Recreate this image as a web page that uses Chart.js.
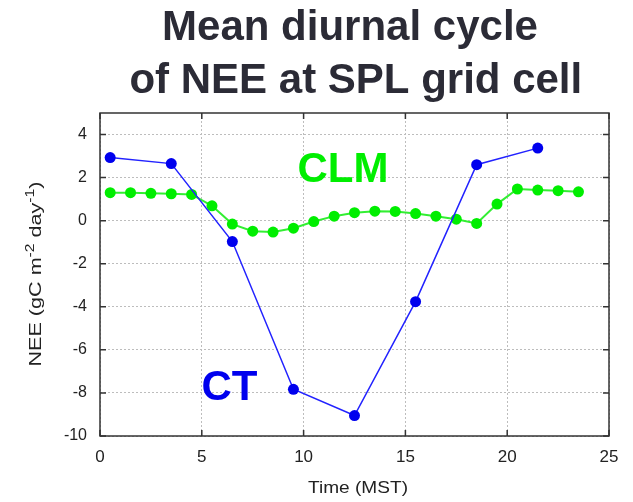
<!DOCTYPE html>
<html>
<head>
<meta charset="utf-8">
<script src="https://cdn.jsdelivr.net/npm/chart.js@4"></script>
<style>
  html, body { margin: 0; padding: 0; background: #fff; }
  #wrap { width: 633px; height: 502px; }
</style>
</head>
<body>
<div id="wrap"><canvas id="neeChart" width="633" height="502"></canvas></div>
<script>
// hours (MST) and NEE values
const ctHours = [0.5, 3.5, 6.5, 9.5, 12.5, 15.5, 18.5, 21.5];
const ctValues = [2.93, 2.65, -0.97, -7.83, -9.05, -3.76, 2.6, 3.37];

const clmHours = [0.5, 1.5, 2.5, 3.5, 4.5, 5.5, 6.5, 7.5, 8.5, 9.5, 10.5, 11.5,
  12.5, 13.5, 14.5, 15.5, 16.5, 17.5, 18.5, 19.5, 20.5, 21.5, 22.5, 23.5];
const clmValues = [1.3, 1.3, 1.27, 1.25, 1.22, 0.69, -0.16, -0.49, -0.53, -0.35, -0.04, 0.21,
  0.37, 0.44, 0.43, 0.33, 0.21, 0.07, -0.13, 0.77, 1.47, 1.42, 1.39, 1.34];

const xTicks = [0, 5, 10, 15, 20, 25];
const yTicks = [-10, -8, -6, -4, -2, 0, 2, 4];

const titleLines = ["Mean diurnal cycle", " of NEE at SPL grid cell"];
const xTitle = "Time (MST)";
const FONT = "'Liberation Sans', Arial, Helvetica, sans-serif";

function toPoints(xs, ys) {
  return xs.map((x, i) => ({ x: x, y: ys[i] }));
}

// text pieces drawn one after another, squeezed/stretched to a given length
function drawPieces(ctx, parts, length) {
  let total = 0;
  parts.forEach(p => { ctx.font = p[1] + "px " + FONT; total += ctx.measureText(p[0]).width; });
  const k = length / total;
  ctx.scale(k, 1);
  let cx = -total / 2;
  parts.forEach(p => {
    ctx.font = p[1] + "px " + FONT;
    ctx.fillText(p[0], cx, p[2]);
    cx += ctx.measureText(p[0]).width;
  });
}

// frame, inward ticks, title, series labels, axis titles
const decorations = {
  id: "decorations",
  afterDraw(chart) {
    const ctx = chart.ctx;
    const a = chart.chartArea;
    const xs = chart.scales.x;
    const ys = chart.scales.y;

    ctx.save();
    ctx.strokeStyle = "#333";
    ctx.lineWidth = 1.5;
    ctx.strokeRect(a.left, a.top, a.right - a.left, a.bottom - a.top);

    ctx.beginPath();
    xTicks.forEach(v => {
      const px = xs.getPixelForValue(v);
      ctx.moveTo(px, a.bottom); ctx.lineTo(px, a.bottom - 6);
      ctx.moveTo(px, a.top); ctx.lineTo(px, a.top + 6);
    });
    yTicks.forEach(v => {
      const py = ys.getPixelForValue(v);
      ctx.moveTo(a.left, py); ctx.lineTo(a.left + 6, py);
      ctx.moveTo(a.right, py); ctx.lineTo(a.right - 6, py);
    });
    ctx.stroke();

    // title
    ctx.fillStyle = "#2b2b36";
    ctx.font = "bold 42px " + FONT;
    ctx.textAlign = "center";
    ctx.textBaseline = "alphabetic";
    ctx.fillText(titleLines[0], 350, 40);
    ctx.fillText(titleLines[1], 350, 93);

    // series labels
    ctx.textAlign = "left";
    ctx.fillStyle = "#00ee00";
    ctx.fillText("CLM", xs.getPixelForValue(9.7), ys.getPixelForValue(1.78));
    ctx.fillStyle = "#0000ee";
    ctx.fillText("CT", xs.getPixelForValue(4.98), ys.getPixelForValue(-8.33));

    ctx.fillStyle = "#222";

    // x axis title
    ctx.save();
    ctx.translate(358, 493);
    drawPieces(ctx, [[xTitle, 16.5, 0]], 100);
    ctx.restore();

    // y axis title with superscripts
    ctx.save();
    ctx.translate(41, 274);
    ctx.rotate(-Math.PI / 2);
    drawPieces(ctx, [
      ["NEE (gC m", 16.5, 0], ["-2", 12, -7], [" day", 16.5, 0], ["-1", 12, -7], [")", 16.5, 0]
    ], 185);
    ctx.restore();

    ctx.restore();
  }
};

const chart = new Chart(document.getElementById("neeChart"), {
  type: "line",
  data: {
    datasets: [
      {
        label: "CT",
        data: toPoints(ctHours, ctValues),
        borderColor: "#2222ff",
        backgroundColor: "#0000ee",
        borderWidth: 1.5,
        pointRadius: 5.5,
        pointBorderWidth: 0,
        pointBackgroundColor: "#0000ee",
        tension: 0
      },
      {
        label: "CLM",
        data: toPoints(clmHours, clmValues),
        borderColor: "#33ee33",
        backgroundColor: "#00ee00",
        borderWidth: 2,
        pointRadius: 5.5,
        pointBorderWidth: 0,
        pointBackgroundColor: "#00ee00",
        tension: 0
      }
    ]
  },
  options: {
    responsive: false,
    animation: false,
    layout: { padding: { top: 113, right: 24, left: 0, bottom: 0 } },
    plugins: {
      legend: { display: false },
      tooltip: { enabled: false }
    },
    scales: {
      x: {
        type: "linear",
        min: 0,
        max: 25,
        ticks: {
          stepSize: 5,
          color: "#222",
          padding: 11,
          font: { family: FONT, size: 17 }
        },
        grid: { color: "#bdbdbd", lineWidth: 1, drawTicks: false },
        border: { display: false, dash: [2, 2] },
        afterFit(scale) { scale.height = 66; }
      },
      y: {
        type: "linear",
        min: -10,
        max: 5,
        ticks: {
          stepSize: 2,
          includeBounds: false,
          color: "#222",
          padding: 13,
          font: { family: FONT, size: 16 }
        },
        grid: { color: "#bdbdbd", lineWidth: 1, drawTicks: false },
        border: { display: false, dash: [2, 2] },
        afterFit(scale) { scale.width = 100; }
      }
    }
  },
  plugins: [decorations]
});
</script>
</body>
</html>
